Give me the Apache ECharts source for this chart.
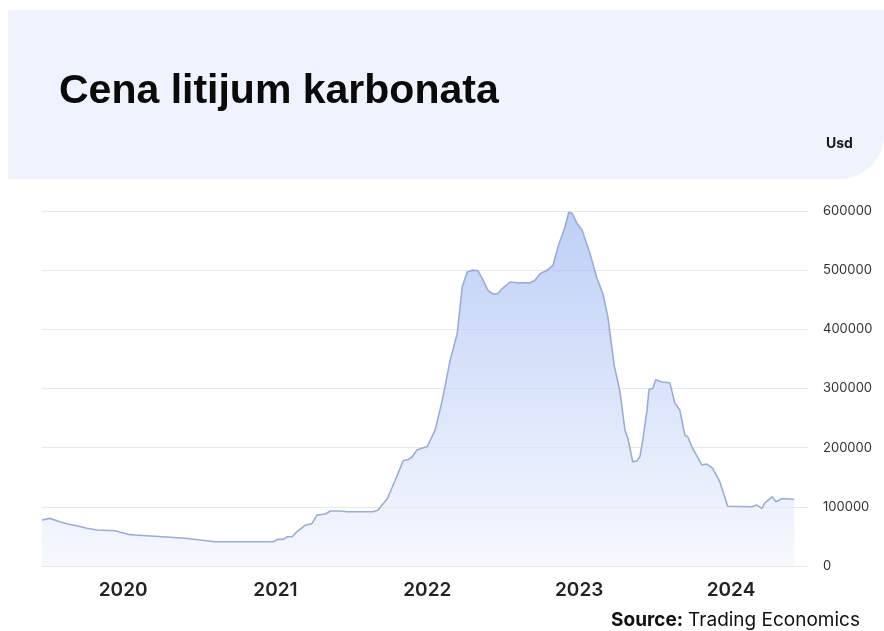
<!DOCTYPE html>
<html>
<head>
<meta charset="utf-8">
<script src="https://cdn.jsdelivr.net/npm/echarts@6/dist/echarts.min.js"></script>
<style>
html,body{margin:0;padding:0;background:#fff;}
#chart{width:884px;height:631px;}
</style>
</head>
<body>
<div id="chart"></div>
<script>
const titleText = 'Cena litijum karbonata';
const unitText = 'Usd';
const sourceLabel = 'Source:';
const sourceName = 'Trading Economics';
const yTicks = [0, 100000, 200000, 300000, 400000, 500000, 600000];

const dates = ['2019-06-20','2019-07-09','2019-08-02','2019-08-21','2019-09-14','2019-10-06','2019-10-30','2019-12-12',
'2020-01-13','2020-01-29','2020-04-04','2020-05-29','2020-08-09','2020-09-27','2020-12-27',
'2021-01-06','2021-01-20','2021-01-30','2021-02-10','2021-02-22','2021-03-14','2021-03-30','2021-04-11','2021-05-01','2021-05-13','2021-06-06','2021-06-23','2021-08-24','2021-09-05','2021-09-27','2021-10-16','2021-11-04','2021-11-16','2021-11-26','2021-12-07',
'2022-01-01','2022-01-20','2022-02-06','2022-02-25','2022-03-14','2022-03-26','2022-04-07','2022-04-19','2022-05-03','2022-05-15','2022-05-27','2022-06-08','2022-06-20','2022-06-30','2022-07-19','2022-08-05','2022-09-05','2022-09-17','2022-09-29','2022-10-16','2022-10-30','2022-11-11','2022-11-28','2022-12-07','2022-12-15','2022-12-27',
'2023-01-08','2023-01-27','2023-02-13','2023-02-27','2023-03-11','2023-03-26','2023-04-09','2023-04-21','2023-04-28','2023-05-10','2023-05-20','2023-05-27','2023-06-03','2023-06-13','2023-06-18','2023-06-27','2023-07-04','2023-07-19','2023-08-07','2023-08-19','2023-08-31','2023-09-12','2023-09-19','2023-09-29','2023-10-23','2023-11-04','2023-11-18','2023-12-05','2023-12-24',
'2024-02-20','2024-03-03','2024-03-15','2024-03-23','2024-04-09','2024-04-18','2024-05-03','2024-06-01'];

const prices = [77700,80500,74800,71000,67600,63700,60800,59600,
53500,52400,49500,46800,41000,41000,41000,
45000,45000,49500,49500,58000,69000,72000,86000,87800,93000,93000,91700,91700,94600,114000,145000,178000,180000,184600,196000,
202000,230000,280000,348000,393000,472000,497000,500000,499000,483000,466000,459500,460600,469000,480000,478600,478600,483000,494000,500000,508000,539000,573000,598000,596000,579000,
568000,528000,486000,460600,421000,340000,295000,230000,216000,176000,178000,184600,213000,263500,298500,300000,315000,311000,309600,275000,263500,221000,218500,201500,170600,172300,165000,142400,101000,
100200,103000,97500,107000,117000,108600,114000,112700];

const xMin = '2019-06-20';
const xMax = '2024-07-04';

const chart = echarts.init(document.getElementById('chart'), null, {renderer: 'canvas'});
const seriesData = dates.map((d, i) => [d, prices[i]]);

chart.setOption({
  backgroundColor: '#ffffff',
  animation: false,
  graphic: [
    {
      type: 'rect',
      z: -10,
      silent: true,
      shape: {x: 8, y: 10, width: 876, height: 169, r: [0, 0, 44, 0]},
      style: {fill: '#eef3fd'}
    },
    {
      type: 'text',
      left: 826,
      top: 137,
      style: {text: unitText, font: 'bold 14px Inter, "Liberation Sans", sans-serif', fill: '#1a1a1a'}
    }
  ],
  title: [
    {
      text: titleText,
      left: 54,
      top: 66,
      textStyle: {fontFamily: '"Liberation Sans", Arial, sans-serif', fontWeight: 'bold', fontSize: 41, color: '#0a0a0a'}
    },
    {
      text: '{b|' + sourceLabel + '} {r|' + sourceName + '}',
      right: 24,
      top: 611,
      padding: 0,
      textStyle: {
        rich: {
          b: {fontFamily: 'Inter, sans-serif', fontWeight: 'bold', fontSize: 19, color: '#111'},
          r: {fontFamily: 'Inter, sans-serif', fontWeight: 'normal', fontSize: 19, color: '#111'}
        }
      }
    }
  ],
  grid: {left: 42, right: 76, top: 211, bottom: 65, containLabel: false},
  xAxis: {
    type: 'time',
    min: xMin,
    max: xMax,
    minInterval: 365 * 24 * 3600 * 1000,
    maxInterval: 366 * 24 * 3600 * 1000,
    axisLine: {show: false},
    axisTick: {show: false},
    splitLine: {show: false},
    axisLabel: {
      margin: 15,
      fontFamily: 'Inter, sans-serif',
      fontSize: 19,
      fontWeight: 600,
      color: '#222',
      formatter: function (v) {
        const d = new Date(v);
        return (d.getMonth() === 0 && d.getDate() === 1) ? String(d.getFullYear()) : '';
      }
    }
  },
  yAxis: {
    type: 'value',
    position: 'right',
    min: yTicks[0],
    max: yTicks[yTicks.length - 1],
    interval: yTicks[1] - yTicks[0],
    axisLine: {show: false},
    axisTick: {show: false},
    splitLine: {lineStyle: {color: '#e8e8e8', width: 1}},
    axisLabel: {
      margin: 15,
      fontFamily: 'Inter, sans-serif',
      fontSize: 13,
      color: '#333',
      formatter: function (v) { return String(v); }
    }
  },
  series: [{
    type: 'line',
    data: seriesData,
    showSymbol: false,
    smooth: false,
    lineStyle: {color: '#9aadd8', width: 1.6},
    areaStyle: {
      color: new echarts.graphic.LinearGradient(0, 0, 0, 1, [
        {offset: 0, color: '#a2bbf3'},
        {offset: 1, color: '#f3f6fe'}
      ])
    }
  }]
});
</script>
</body>
</html>
